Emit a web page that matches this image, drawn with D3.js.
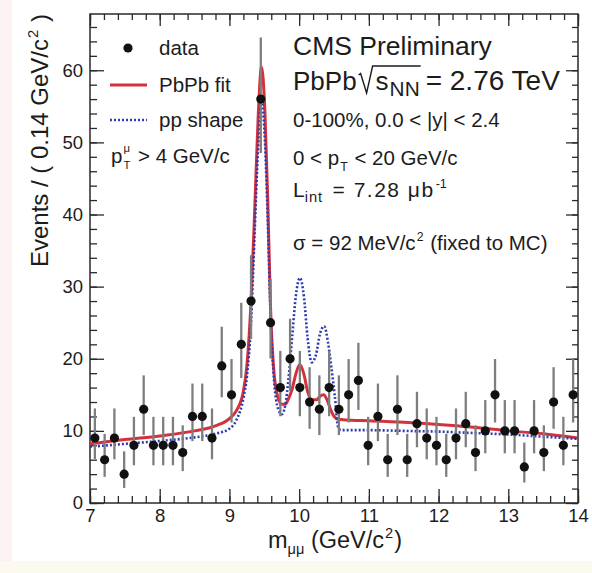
<!DOCTYPE html>
<html>
<head>
<meta charset="utf-8">
<script src="https://cdn.jsdelivr.net/npm/d3@7"></script>
<style>
  body { margin: 0; background: #fff; }
  svg { display: block; font-family: "Liberation Sans", Arial, sans-serif; }
  text { white-space: pre; fill: #1c1c1c; }
</style>
</head>
<body>
<script>
// data: 50 bins of 0.14 GeV/c^2 between 7 and 14
var binCenters = [7.07,7.21,7.35,7.49,7.63,7.77,7.91,8.05,8.19,8.33,
  8.47,8.61,8.75,8.89,9.03,9.17,9.31,9.45,9.59,9.73,
  9.87,10.01,10.15,10.29,10.43,10.57,10.71,10.85,10.99,11.13,
  11.27,11.41,11.55,11.69,11.83,11.97,12.11,12.25,12.39,12.53,
  12.67,12.81,12.95,13.09,13.23,13.37,13.51,13.65,13.79,13.93];
var counts = [9,6,9,4,8,13,8,8,8,7,
  12,12,9,19,15,22,28,56,25,16,
  20,16,14,13,16,13,15,17,8,12,
  6,13,6,11,9,8,6,9,11,7,
  10,15,10,10,5,10,7,14,8,15];
// poisson error bars (down / up)
var errLo = [2.94,2.38,2.94,1.91,2.77,3.58,2.77,2.77,2.77,2.58,
  3.42,3.42,2.94,4.34,3.84,4.67,5.27,7.47,4.98,3.97,
  4.45,3.97,3.71,3.58,3.97,3.58,3.84,4.10,2.77,3.42,
  2.38,3.58,2.38,3.27,2.94,2.77,2.38,2.94,3.27,2.58,
  3.11,3.84,3.11,3.11,2.16,3.11,2.58,3.71,2.77,3.84];
var errHi = [4.11,3.58,4.11,3.16,3.95,4.70,3.95,3.95,3.95,3.77,
  4.56,4.56,4.11,5.44,4.96,5.76,6.35,8.54,6.06,5.09,
  5.55,5.09,4.83,4.70,5.09,4.70,4.96,5.21,3.95,4.56,
  3.58,4.70,3.58,4.42,4.11,3.95,3.58,4.11,4.42,3.77,
  4.27,4.96,4.27,4.27,3.38,4.27,3.77,4.83,3.95,4.96];

// PbPb fit curve
var fitMass = [7.0,7.5,8.0,8.5,8.8,9.0,9.1,9.2,9.25,9.31,9.36,9.41,9.46,9.51,9.55,9.59,9.64,9.7,9.75,9.8,
  9.85,9.9,9.95,10.01,10.07,10.12,10.18,10.25,10.3,10.35,10.4,10.45,10.5,10.56,10.7,11.0,11.5,12.0,12.5,13.0,13.5,14.0];
var fitVal = [8.2,8.8,9.3,10.0,10.7,11.7,12.8,15.5,19,28,40,53,60.5,54,42,27,18,14.5,13.7,13.7,
  14.5,15.8,17.8,19.2,17.8,15.5,14.3,14.3,14.8,15.0,14.3,13.0,12.0,11.6,11.5,11.4,11.2,10.9,10.5,10.0,9.6,9.0];

// pp shape curve
var ppMass = [7.0,7.5,8.0,8.5,8.8,9.0,9.1,9.2,9.25,9.31,9.36,9.41,9.46,9.51,9.55,9.59,9.64,9.7,9.75,9.8,
  9.85,9.9,9.95,10.01,10.07,10.12,10.18,10.24,10.3,10.36,10.41,10.46,10.51,10.56,10.6,11.0,11.5,12.0,12.5,13.0,13.5,14.0];
var ppVal = [7.8,8.2,8.6,9.1,9.6,10.3,11.5,14.5,17.5,25,37,49,56,50,39,26,17,13,12.3,13.5,
  17.5,23,28.5,31.2,28.5,23,19.5,20.5,23.5,24.5,22.5,19,15,10.5,10.1,10.1,10.0,9.9,9.7,9.5,9.2,8.9];

var xTicks = [7, 8, 9, 10, 11, 12, 13, 14];
var yTicks = [0, 10, 20, 30, 40, 50, 60];

var width = 592, height = 573;
var svg = d3.select("body").append("svg").attr("width", width).attr("height", height);

// faint scan borders
svg.append("rect").attr("x", 0).attr("y", 0).attr("width", 12).attr("height", height).attr("fill", "#fcf2f4");
svg.append("rect").attr("x", 0).attr("y", 561).attr("width", width).attr("height", 12).attr("fill", "#fcfaee");

var x = d3.scaleLinear().domain([7, 14]).range([90, 578]);
var y = d3.scaleLinear().domain([0, 67.8]).range([503, 14]);

// place text pieces one after another (sub/superscripts)
function richText(sel, x0, y0, size, parts) {
  var g = sel.append("g");
  var cx = x0;
  var pos = [];
  parts.forEach(function (p) {
    var fs = size * (p.k || 1);
    var px = cx + (p.dx || 0);
    var t = g.append("text").attr("x", px).attr("y", y0 + (p.dy || 0))
      .attr("font-size", fs).text(p.t);
    if (p.ls) t.attr("letter-spacing", p.ls);
    var w = t.node().getComputedTextLength();
    pos.push([px, px + w]);
    if (!p.stay) cx = px + w;
  });
  return { g: g, pos: pos, end: cx };
}

// axes (ticks inside the frame, mirrored on top/right)
var minorX = d3.range(7, 14.001, 0.2);
var minorY = d3.range(0, 67.8, 2);

function styleAxis(g) {
  g.select(".domain").remove();
  g.selectAll("line").attr("stroke", "#2a2a2a").attr("stroke-width", 1.3);
  g.selectAll("text").attr("font-size", 18.5).attr("fill", "#262626")
    .attr("font-family", "Liberation Sans, Arial, sans-serif");
}

svg.append("g").attr("transform", "translate(0,503)")
  .call(d3.axisBottom(x).tickValues(minorX).tickSize(-7).tickFormat(""))
  .call(styleAxis);
svg.append("g").attr("transform", "translate(0,503)")
  .call(d3.axisBottom(x).tickValues(xTicks).tickSize(-14).tickPadding(6).tickFormat(d3.format("d")))
  .call(styleAxis);
svg.append("g").attr("transform", "translate(0,14)")
  .call(d3.axisTop(x).tickValues(minorX).tickSize(-6).tickFormat(""))
  .call(styleAxis);
svg.append("g").attr("transform", "translate(0,14)")
  .call(d3.axisTop(x).tickValues(xTicks).tickSize(-12).tickFormat(""))
  .call(styleAxis);

svg.append("g").attr("transform", "translate(90,0)")
  .call(d3.axisLeft(y).tickValues(minorY).tickSize(-7).tickFormat(""))
  .call(styleAxis);
svg.append("g").attr("transform", "translate(90,0)")
  .call(d3.axisLeft(y).tickValues(yTicks).tickSize(-14).tickPadding(7).tickFormat(d3.format("d")))
  .call(styleAxis);
svg.append("g").attr("transform", "translate(578,0)")
  .call(d3.axisRight(y).tickValues(minorY).tickSize(-6).tickFormat(""))
  .call(styleAxis);
svg.append("g").attr("transform", "translate(578,0)")
  .call(d3.axisRight(y).tickValues(yTicks).tickSize(-12).tickFormat(""))
  .call(styleAxis);

svg.append("rect").attr("x", 90).attr("y", 14).attr("width", 488).attr("height", 489)
  .attr("fill", "none").attr("stroke", "#2a2a2a").attr("stroke-width", 1.5);

// clip for the curves
svg.append("clipPath").attr("id", "frame").append("rect")
  .attr("x", 90).attr("y", 14).attr("width", 488).attr("height", 489);

var line = d3.line()
  .x(function (d) { return x(d[0]); })
  .y(function (d) { return y(d[1]); })
  .curve(d3.curveMonotoneX);

var plot = svg.append("g").attr("clip-path", "url(#frame)");

plot.append("path")
  .datum(d3.zip(fitMass, fitVal))
  .attr("d", line)
  .attr("fill", "none")
  .attr("stroke", "#d2323c")
  .attr("stroke-width", 3);

plot.append("path")
  .datum(d3.zip(ppMass, ppVal))
  .attr("d", line)
  .attr("fill", "none")
  .attr("stroke", "#2e3cae")
  .attr("stroke-width", 2.6)
  .attr("stroke-dasharray", "2,2");

// data with error bars
var pts = d3.range(binCenters.length).map(function (i) {
  return { m: binCenters[i], n: counts[i], lo: errLo[i], hi: errHi[i] };
});

plot.selectAll(".err")
  .data(pts)
  .enter()
  .append("line")
  .attr("class", "err")
  .attr("x1", function (d) { return x(d.m); })
  .attr("x2", function (d) { return x(d.m); })
  .attr("y1", function (d) { return y(d.n - d.lo); })
  .attr("y2", function (d) { return y(d.n + d.hi); })
  .attr("stroke", "#7e7e7e")
  .attr("stroke-width", 2.3);

plot.selectAll(".pt")
  .data(pts)
  .enter()
  .append("circle")
  .attr("class", "pt")
  .attr("cx", function (d) { return x(d.m); })
  .attr("cy", function (d) { return y(d.n); })
  .attr("r", 4.6)
  .attr("fill", "#111");

// legend
var leg = svg.append("g");
leg.append("circle").attr("cx", 128).attr("cy", 48).attr("r", 4.6).attr("fill", "#111");
leg.append("text").attr("x", 159).attr("y", 55).attr("font-size", 20.5).text("data");
leg.append("line").attr("x1", 110).attr("x2", 147).attr("y1", 85).attr("y2", 85)
  .attr("stroke", "#d2323c").attr("stroke-width", 3);
leg.append("text").attr("x", 159).attr("y", 92).attr("font-size", 20.5).text("PbPb fit");
leg.append("line").attr("x1", 110).attr("x2", 147).attr("y1", 120).attr("y2", 120)
  .attr("stroke", "#2e3cae").attr("stroke-width", 2.6).attr("stroke-dasharray", "2,2");
leg.append("text").attr("x", 159).attr("y", 127).attr("font-size", 20.5).text("pp shape");
richText(leg, 111, 163, 20.5, [
  { t: "p" },
  { t: "\u03bc", k: 0.55, dy: -11, dx: 1, stay: true },
  { t: "T", k: 0.55, dy: 6, dx: 1 },
  { t: " > 4 GeV/c", dx: 2 }
]);

// info block
var info = svg.append("g");
info.append("text").attr("x", 293).attr("y", 55).attr("font-size", 26.5).text("CMS Preliminary");
var r = richText(info, 293, 90, 26, [
  { t: "PbPb" },
  { t: "s", dx: 19 },
  { t: "NN", k: 0.8, dy: 6, dx: 1 }
]);
var rx = r.pos[0][1], ox = r.pos[2][1] + 1;
info.append("path")
  .attr("d", "M" + (rx + 2) + ",75 L" + (rx + 4) + ",73.5 L" + (rx + 10) + ",93 L" + (rx + 16) + ",66 L" + ox + ",66")
  .attr("fill", "none").attr("stroke", "#1c1c1c").attr("stroke-width", 1.4);
info.append("text").attr("x", ox + 5).attr("y", 90).attr("font-size", 28).text("= 2.76 TeV");

info.append("text").attr("x", 293).attr("y", 127).attr("font-size", 20.5).text("0-100%, 0.0 < |y| < 2.4");
richText(info, 293, 165, 20.5, [
  { t: "0 < p" },
  { t: "T", k: 0.6, dy: 6, dx: 1 },
  { t: " < 20 GeV/c", dx: 1 }
]);
richText(info, 293, 197, 21, [
  { t: "L" },
  { t: "int", k: 0.7, dy: 5, ls: 1 },
  { t: " = 7.28 \u03bcb", dx: 2, ls: 1.5 },
  { t: "-1", k: 0.6, dy: -9, dx: 1 }
]);
richText(info, 293, 250, 20.5, [
  { t: "\u03c3 = 92 MeV/c" },
  { t: "2", k: 0.6, dy: -9, dx: 1 },
  { t: " (fixed to MC)", dx: 1 }
]);

// axis titles
var xt = richText(svg, 0, 548, 23.5, [
  { t: "m" },
  { t: "\u03bc\u03bc", k: 0.62, dy: 6 },
  { t: " (GeV/c" },
  { t: "2", k: 0.62, dy: -10, dx: 1 },
  { t: ")", dx: 1 }
]);
xt.g.attr("transform", "translate(" + (402 - xt.end) + ",0)");

var ytg = svg.append("g");
var yt = richText(ytg, 0, 0, 24, [
  { t: "Events / ( 0.14 GeV/c" },
  { t: "2", k: 0.62, dy: -10, dx: 1 },
  { t: " )", dx: 1 }
]);
ytg.attr("transform", "translate(48," + (14 + yt.end) + ") rotate(-90)");
</script>
</body>
</html>
